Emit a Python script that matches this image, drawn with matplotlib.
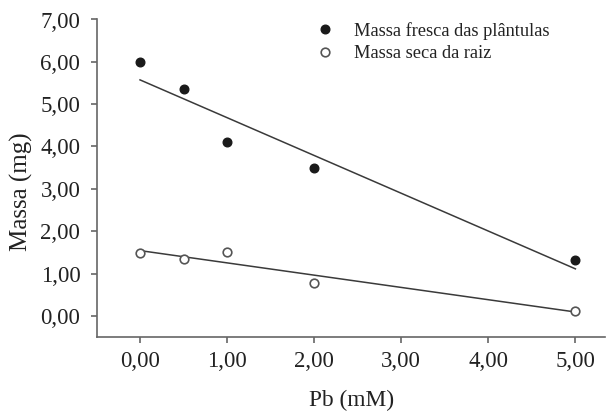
import numpy as np
import matplotlib
matplotlib.use("Agg")
import matplotlib.pyplot as plt

plt.rcParams['font.family'] = ['Liberation Serif', 'DejaVu Serif']

pb = np.array([0.0, 0.5, 1.0, 2.0, 5.0])
fresca = np.array([6.00, 5.36, 4.11, 3.49, 1.32])
seca = np.array([1.49, 1.35, 1.51, 0.77, 0.12])

xticks = [0, 1, 2, 3, 4, 5]
yticks = [0, 1, 2, 3, 4, 5, 6, 7]

fig = plt.figure(figsize=(6.07, 4.15), dpi=100)
ax = fig.add_axes([97/607, 1 - 337/415, 508/607, (337 - 19.5)/415])

line_col = '#3a3a3a'
axis_col = '#666666'

# regression lines
xx = np.array([pb.min(), pb.max()])
for y in (fresca, seca):
    b, a = np.polyfit(pb, y, 1)
    ax.plot(xx, a + b * xx, color=line_col, lw=1.1, zorder=2)

ax.plot(pb, fresca, 'o', ms=6.2, color='#1a1a1a', mec='#1a1a1a',
        label='Massa fresca das plântulas', zorder=3)
ax.plot(pb, seca, 'o', ms=6.2, mfc='white', mec='#555555', mew=1.2,
        label='Massa seca da raiz', zorder=3)

ax.set_xlim(-0.494, 5.34)
ax.set_ylim(-0.5, 7.0)
ax.set_xticks(xticks)
ax.set_yticks(yticks)
ax.set_xticklabels([f'{v:.2f}'.replace('.', ',') for v in xticks])
ax.set_yticklabels([f'{v:.2f}'.replace('.', ',') for v in yticks])

for s in ('top', 'right'):
    ax.spines[s].set_visible(False)
for s in ('left', 'bottom'):
    ax.spines[s].set_color(axis_col)
    ax.spines[s].set_linewidth(1.2)
ax.tick_params(direction='out', length=4, width=1.2, color=axis_col,
               labelsize=16.5, labelcolor='#222222')
ax.tick_params(axis='y', pad=8)
ax.tick_params(axis='x', pad=6)

fig.text(352/607, 1 - 400/415, 'Pb (mM)', ha='center', va='center',
         fontsize=16.8, color='#222222')
fig.text(21/607, 1 - 192/415, 'Massa (mg)', ha='center', va='center',
         rotation=90, fontsize=18, color='#222222')

ax.legend(loc='upper left', bbox_to_anchor=(316/607, 1 - 22/415),
          bbox_transform=fig.transFigure, frameon=False, fontsize=13.2,
          handlelength=1.0, handletextpad=1.1, borderpad=0, borderaxespad=0,
          labelspacing=0.3, labelcolor='#222222')

fig.savefig('out.png', dpi=100)
